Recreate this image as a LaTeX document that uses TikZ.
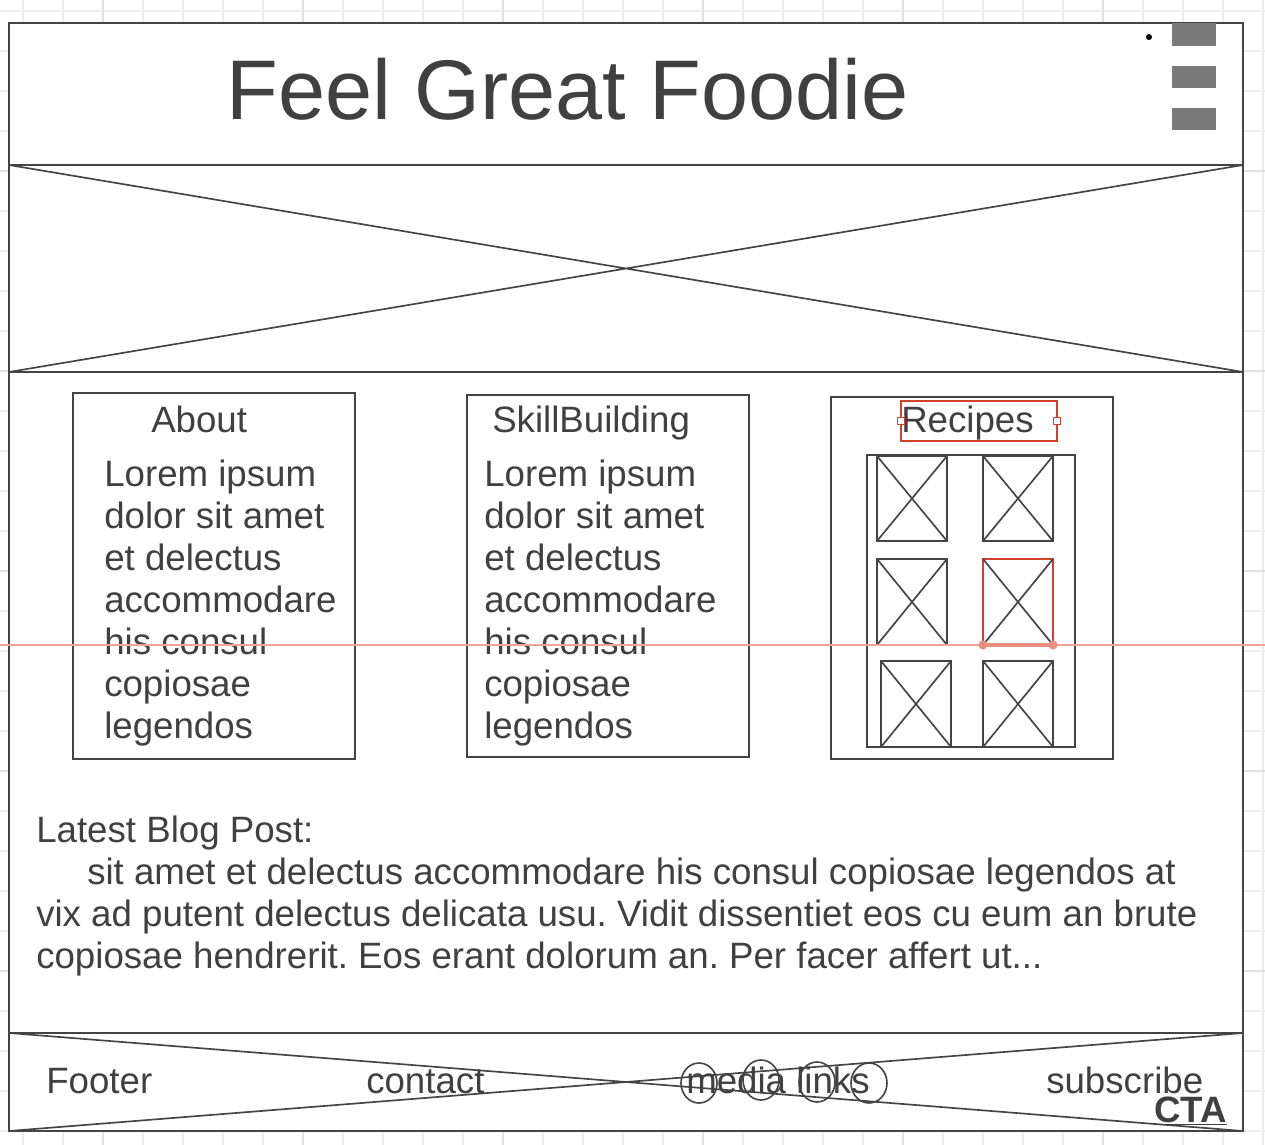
\documentclass[tikz,border=0pt]{standalone}
\usepackage{fontspec}
\setmainfont{Liberation Sans}
\frenchspacing
\definecolor{linegray}{HTML}{444444}
\definecolor{textgray}{HTML}{404040}
\definecolor{gridminor}{HTML}{EDEDED}
\definecolor{gridmajor}{HTML}{E0E0E0}
\definecolor{barfill}{HTML}{7A7A7A}
\definecolor{selred}{HTML}{D4402A}
\definecolor{guidered}{HTML}{F2A496}
\definecolor{guidedot}{HTML}{E98F80}
% image placeholder: a box crossed from corner to corner
\newcommand\wfimage[5][linegray]{%
  \draw[box,draw=#1] (#2,#3) rectangle (#4,#5);
  \draw[xline] (#2,#3) -- (#4,#5) (#2,#5) -- (#4,#3);}
\begin{document}
\begin{tikzpicture}[x=0.75pt,y=-0.75pt,
  box/.style={draw=linegray, line width=1.6pt},
  xline/.style={draw=linegray, line width=1.25pt},
  txt/.style={inner sep=0pt, anchor=base west, text=textgray,
              font=\fontsize{27.5}{32}\selectfont},
  bubble/.style={draw=linegray, line width=1.2pt},
  handle/.style={draw=selred, fill=white, line width=1pt}]
\useasboundingbox (0,0) rectangle (1265,1145);

% background grid
\foreach \gx in {23,63,...,1263}
  \draw[gridminor, line width=0.9pt] (\gx,0) -- (\gx,1145);
\foreach \gy in {11,51,...,1131}
  \draw[gridminor, line width=0.9pt] (0,\gy) -- (1265,\gy);
\foreach \gx in {103,303,...,1103}
  \draw[gridmajor, line width=1pt] (\gx,0) -- (\gx,1145);
\foreach \gy in {171,371,...,971}
  \draw[gridmajor, line width=1pt] (0,\gy) -- (1265,\gy);

% page frame
\draw[box, fill=white] (9,23) rectangle (1243,1131);

% header
\draw[box] (9,165) -- (1243,165);
\node[inner sep=0pt, anchor=base, text=textgray, font=\fontsize{63.5}{70}\selectfont]
  (title) at (567.5,120) {Feel Great Foodie};
\fill[black] (1149,37) circle (3);
\fill[barfill] (1172,23) rectangle (1216,46);
\fill[barfill] (1172,66) rectangle (1216,88);
\fill[barfill] (1172,108) rectangle (1216,130);

% hero image
\draw[box] (9,372) -- (1243,372);
\draw[xline] (9,165) -- (1243,372) (9,372) -- (1243,165);

% about column
\draw[box] (73,393) rectangle (355,759);
\node[txt] (about) at (151,432.7) {About};
\foreach \ln [count=\i from 0] in {Lorem ipsum,dolor sit amet,et delectus,accommodare,his consul,copiosae,legendos}
  \node[txt] (about-\i) at (104,486.7+42*\i) {\ln};

% skill building column
\draw[box] (467,395) rectangle (749,757);
\node[txt] (skill) at (492,432.7) {SkillBuilding};
\foreach \ln [count=\i from 0] in {Lorem ipsum,dolor sit amet,et delectus,accommodare,his consul,copiosae,legendos}
  \node[txt] (skill-\i) at (484,486.7+42*\i) {\ln};

% recipes column
\draw[box] (831,397) rectangle (1113,759);
\node[txt] (recipes) at (901,432.7) {Recipes};
\draw[selred, line width=1.2pt] (901,401) rectangle (1057,441);
\draw[handle] (897.5,417.5) rectangle (904.5,424.5);
\draw[handle] (1053.5,417.5) rectangle (1060.5,424.5);
\draw[box] (867,455) rectangle (1075,747);
\wfimage{877}{456}{947}{541}
\wfimage{983}{456}{1053}{541}
\wfimage{877}{559}{947}{645}
\wfimage[selred]{983}{559}{1053}{645}
\wfimage{881}{661}{951}{747}
\wfimage{983}{661}{1053}{747}

% alignment guide
\draw[guidered, line width=0.9pt] (0,645) -- (1265,645);
\draw[guidedot, line width=2.5pt] (983,645) -- (1053,645);
\fill[guidedot] (983,645) circle (4.5) (1053,645) circle (4.5);

% latest blog post
\node[txt] (blog-0) at (36,842.7) {Latest Blog Post:};
\node[txt] (blog-1) at (87,884.7) {sit amet et delectus accommodare his consul copiosae legendos at};
\node[txt] (blog-2) at (36,926.7) {vix ad putent delectus delicata usu. Vidit dissentiet eos cu eum an brute};
\node[txt] (blog-3) at (36,968.7) {copiosae hendrerit. Eos erant dolorum an. Per facer affert ut...};

% footer
\draw[box] (9,1033) -- (1243,1033);
\draw[xline] (9,1033) -- (1243,1131) (9,1131) -- (1243,1033);
\node[txt] (footer) at (46,1093) {Footer};
\node[txt] (contact) at (366,1093) {contact};
\node[txt] (media) at (686,1093) {media links};
\node[txt] (subscribe) at (1046,1093) {subscribe};
\node[txt] (cta) at (1154,1122) {\underline{\textbf{CTA}}};
\draw[bubble] (699,1083) ellipse [x radius=18, y radius=20];
\draw[bubble] (761,1080) ellipse [x radius=18, y radius=20];
\draw[bubble] (817,1082) ellipse [x radius=18, y radius=20];
\draw[bubble] (869,1083) ellipse [x radius=18, y radius=20];
\end{tikzpicture}
\end{document}
